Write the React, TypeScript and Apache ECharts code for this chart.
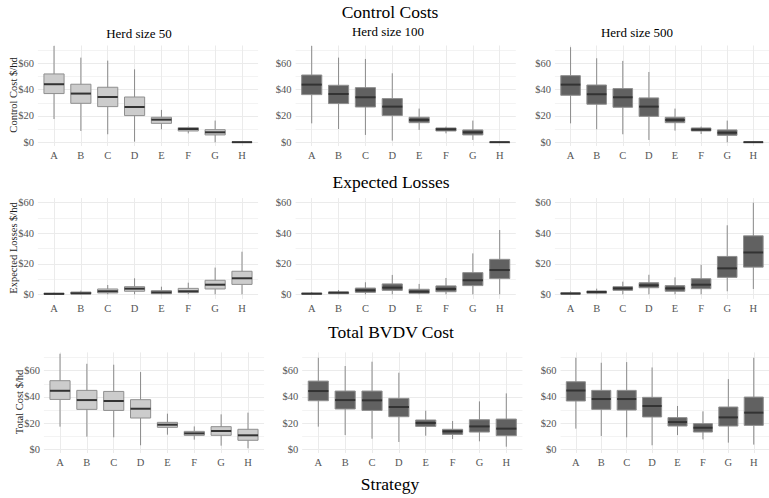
import React, { useEffect, useRef } from "react";
import * as echarts from "echarts";

// Strategy categories
const strategies = ["A", "B", "C", "D", "E", "F", "G", "H"];

// Box stats per strategy: [lower whisker, Q1, median, Q3, upper whisker] ($/hd)
const controlCost50 = [
  [17.7, 37.0, 44.1, 51.9, 73.2],
  [8.6, 29.6, 37.0, 44.1, 64.3],
  [6.1, 27.1, 34.4, 41.8, 62.0],
  [0.5, 20.3, 26.8, 34.4, 55.4],
  [9.9, 14.4, 17.2, 19.0, 24.6],
  [6.8, 8.6, 10.1, 11.1, 11.9],
  [0.0, 5.6, 7.6, 9.6, 16.5],
  [0.0, 0.0, 0.1, 0.2, 0.3],
];
const controlCost100 = [
  [14.4, 36.2, 43.8, 51.1, 73.2],
  [10.1, 29.4, 36.7, 43.3, 64.3],
  [5.6, 26.8, 34.2, 41.5, 63.3],
  [1.3, 20.3, 27.1, 33.2, 52.4],
  [9.4, 14.9, 17.0, 19.0, 25.6],
  [6.8, 8.6, 9.9, 10.9, 11.9],
  [1.8, 5.6, 7.6, 9.4, 16.5],
  [0.0, 0.0, 0.1, 0.2, 0.3],
];
const controlCost500 = [
  [14.4, 35.7, 43.8, 50.6, 72.2],
  [9.9, 28.9, 36.5, 43.5, 63.8],
  [6.1, 26.6, 34.2, 40.8, 61.8],
  [1.8, 19.7, 27.1, 33.7, 53.4],
  [8.9, 14.9, 17.0, 19.0, 25.6],
  [6.3, 8.6, 9.6, 10.9, 11.9],
  [0.0, 5.3, 7.3, 9.4, 16.5],
  [0.0, 0.0, 0.1, 0.2, 0.3],
];
const expectedLoss50 = [
  [0.0, 0.0, 0.3, 0.7, 1.1],
  [0.0, 0.2, 0.7, 1.5, 2.4],
  [0.0, 0.9, 2.0, 3.5, 6.1],
  [0.0, 2.0, 3.7, 5.0, 10.5],
  [0.0, 0.4, 1.3, 2.4, 5.0],
  [0.0, 1.1, 2.0, 3.9, 7.6],
  [0.0, 3.5, 6.3, 9.2, 17.5],
  [0.0, 6.5, 10.5, 15.1, 27.9],
];
const expectedLoss100 = [
  [0.0, 0.1, 0.4, 0.8, 1.5],
  [0.0, 0.4, 1.1, 1.5, 2.8],
  [0.0, 1.3, 2.6, 4.1, 7.9],
  [0.0, 2.6, 4.4, 6.8, 12.7],
  [0.0, 0.7, 1.7, 3.3, 6.8],
  [0.0, 1.7, 3.5, 5.5, 10.7],
  [0.0, 5.7, 9.2, 14.2, 26.8],
  [0.0, 10.3, 15.9, 22.9, 42.1],
];
const expectedLoss500 = [
  [0.0, 0.1, 0.5, 1.0, 1.9],
  [0.0, 0.7, 1.5, 2.2, 3.7],
  [0.0, 2.6, 3.9, 5.0, 8.3],
  [0.0, 4.3, 5.9, 7.6, 12.8],
  [0.0, 2.0, 3.9, 5.7, 11.1],
  [0.0, 3.7, 6.3, 10.2, 19.3],
  [2.0, 11.1, 17.0, 24.8, 45.2],
  [3.5, 17.8, 27.4, 38.3, 60.0],
];
const totalCost50 = [
  [17.3, 38.1, 44.7, 52.4, 73.0],
  [9.7, 30.5, 37.6, 45.0, 65.3],
  [9.2, 29.7, 36.9, 44.2, 64.6],
  [3.1, 23.9, 31.0, 37.9, 59.0],
  [11.2, 16.8, 18.8, 20.6, 27.2],
  [7.4, 10.7, 12.2, 13.7, 17.5],
  [2.8, 10.7, 14.0, 17.3, 26.7],
  [0.8, 6.9, 10.7, 15.3, 28.0],
];
const totalCost100 = [
  [17.3, 37.1, 44.5, 52.1, 69.9],
  [10.9, 30.8, 37.6, 44.5, 63.6],
  [8.1, 29.7, 37.4, 44.5, 66.9],
  [5.6, 24.9, 32.3, 38.9, 58.5],
  [10.4, 17.5, 20.1, 22.4, 29.5],
  [7.9, 11.4, 13.7, 15.3, 21.6],
  [6.1, 13.2, 17.5, 22.6, 36.6],
  [2.0, 10.4, 15.8, 23.1, 42.7],
];
const totalCost500 = [
  [15.8, 36.9, 44.9, 51.6, 69.9],
  [10.2, 30.5, 38.4, 45.0, 66.1],
  [9.2, 30.0, 38.4, 45.0, 66.6],
  [3.1, 24.7, 33.1, 39.7, 62.5],
  [10.9, 17.8, 20.8, 24.2, 33.1],
  [7.6, 13.2, 16.5, 19.6, 29.0],
  [5.1, 17.8, 24.4, 32.3, 53.6],
  [3.6, 18.3, 28.0, 39.9, 69.9],
];

// Tick values
const majorTicks = [0, 20, 40, 60];
const minorTicksTall = [10, 30, 50, 70];
const minorTicksShort = [10, 30, 50];

// Titles
const rowTitles = ["Control Costs", "Expected Losses", "Total BVDV Cost"];
const colTitles = ["Herd size 50", "Herd size 100", "Herd size 500"];
const yTitles = ["Control Cost $/hd", "Expected Losses $/hd", "Total Cost $/hd"];
const xTitle = "Strategy";

const panelData = [
  [controlCost50, controlCost100, controlCost500],
  [expectedLoss50, expectedLoss100, expectedLoss500],
  [totalCost50, totalCost100, totalCost500],
];

const SERIF = '"Liberation Serif", "Times New Roman", "DejaVu Serif", serif';

export default function App() {
  const ref = useRef<HTMLDivElement>(null);

  useEffect(() => {
    if (!ref.current) return;
    const chart = echarts.init(ref.current, null, { renderer: "svg" });

    const rowLayout = [
      { top: 45.5, height: 100.5, min: -2.8, max: 73.5, minor: minorTicksTall, lefts: [37.9, 295.6, 554.9] },
      { top: 198.1, height: 100.8, min: -3, max: 63, minor: minorTicksShort, lefts: [37.9, 295.6, 554.9] },
      { top: 352.4, height: 100.6, min: -2.8, max: 74, minor: minorTicksTall, lefts: [43.9, 302.2, 560.6] },
    ];
    const panelWidth = 220.2;
    const fills = ["#cccccc", "#616161", "#616161"];

    const grids: any[] = [];
    const xAxes: any[] = [];
    const yAxes: any[] = [];
    const series: any[] = [];

    rowLayout.forEach((row, r) => {
      for (let c = 0; c < 3; c++) {
        const gi = grids.length;
        grids.push({ left: row.lefts[c], top: row.top, width: panelWidth, height: row.height });
        xAxes.push({
          type: "value",
          gridIndex: gi,
          min: 0.4,
          max: 8.6,
          axisLine: { show: false },
          axisTick: { show: false, customValues: strategies.map((_, i) => i + 1) },
          axisLabel: {
            customValues: strategies.map((_, i) => i + 1),
            formatter: (v: number) => strategies[Math.round(v) - 1] ?? "",
            color: "#555555",
            fontFamily: SERIF,
            fontSize: 10.5,
            margin: 4,
          },
          splitLine: { show: true, lineStyle: { color: "#ebebeb", width: 1 } },
        });
        const yMain = yAxes.length;
        yAxes.push({
          type: "value",
          gridIndex: gi,
          position: "left",
          min: row.min,
          max: row.max,
          axisLine: { show: false },
          axisTick: { show: false, customValues: majorTicks },
          axisLabel: {
            customValues: majorTicks,
            formatter: (v: number) => "$" + v,
            color: "#555555",
            fontFamily: SERIF,
            fontSize: 10.5,
            margin: 4,
          },
          splitLine: { show: true, lineStyle: { color: "#ebebeb", width: 1 } },
        });
        yAxes.push({
          type: "value",
          gridIndex: gi,
          position: "right",
          min: row.min,
          max: row.max,
          axisLine: { show: false },
          axisTick: { show: false, customValues: row.minor },
          axisLabel: { show: false },
          splitLine: { show: true, lineStyle: { color: "#f3f3f3", width: 1 } },
        });
        const stats = panelData[r][c];
        const fill = fills[c];
        series.push({
          type: "custom",
          xAxisIndex: gi,
          yAxisIndex: yMain,
          encode: { x: 0, y: [1, 2, 3, 4, 5] },
          data: stats.map((s, i) => [i + 1, ...s]),
          renderItem: (params: any, api: any) => {
            const x = api.value(0);
            const lo = api.value(1);
            const q1 = api.value(2);
            const md = api.value(3);
            const q3 = api.value(4);
            const hi = api.value(5);
            const half = api.size([0.75, 0])[0] / 2;
            const pLo = api.coord([x, lo]);
            const pHi = api.coord([x, hi]);
            const pQ1 = api.coord([x, q1]);
            const pQ3 = api.coord([x, q3]);
            const pMd = api.coord([x, md]);
            return {
              type: "group",
              children: [
                {
                  type: "line",
                  shape: { x1: pLo[0], y1: pLo[1], x2: pHi[0], y2: pHi[1] },
                  style: { stroke: "#8a8a8a", lineWidth: 1 },
                },
                {
                  type: "rect",
                  shape: { x: pQ1[0] - half, y: pQ3[1], width: half * 2, height: pQ1[1] - pQ3[1] },
                  style: { fill, stroke: "#8f8f8f", lineWidth: 1 },
                },
                {
                  type: "line",
                  shape: { x1: pMd[0] - half, y1: pMd[1], x2: pMd[0] + half, y2: pMd[1] },
                  style: { stroke: "#333333", lineWidth: 2 },
                },
              ],
            };
          },
        });
      }
    });

    const textStyle = (text: string, size: number, color = "#000") => ({
      text,
      fontFamily: SERIF,
      fontSize: size,
      fill: color,
      align: "center",
      verticalAlign: "middle",
    });

    const graphics: any[] = [
      { type: "text", x: 390, y: 12, style: textStyle(rowTitles[0], 17.5) },
      { type: "text", x: 391, y: 182, style: textStyle(rowTitles[1], 17.5) },
      { type: "text", x: 391, y: 332, style: textStyle(rowTitles[2], 17.5) },
      { type: "text", x: 390, y: 484, style: textStyle(xTitle, 17.5) },
      { type: "text", x: 139, y: 33, style: textStyle(colTitles[0], 13) },
      { type: "text", x: 388, y: 31, style: textStyle(colTitles[1], 13) },
      { type: "text", x: 637, y: 32, style: textStyle(colTitles[2], 13) },
      { type: "text", x: 13, y: 95, rotation: Math.PI / 2, style: textStyle(yTitles[0], 10.5, "#1a1a1a") },
      { type: "text", x: 13, y: 248, rotation: Math.PI / 2, style: textStyle(yTitles[1], 10.5, "#1a1a1a") },
      { type: "text", x: 19, y: 402, rotation: Math.PI / 2, style: textStyle(yTitles[2], 10.5, "#1a1a1a") },
    ];

    chart.setOption({
      animation: false,
      backgroundColor: "#ffffff",
      grid: grids,
      xAxis: xAxes,
      yAxis: yAxes,
      series,
      graphic: graphics,
    });

    return () => chart.dispose();
  }, []);

  return (
    <div
      ref={ref}
      style={{ position: "fixed", left: 0, top: 0, width: 769, height: 498, background: "#fff" }}
    />
  );
}
